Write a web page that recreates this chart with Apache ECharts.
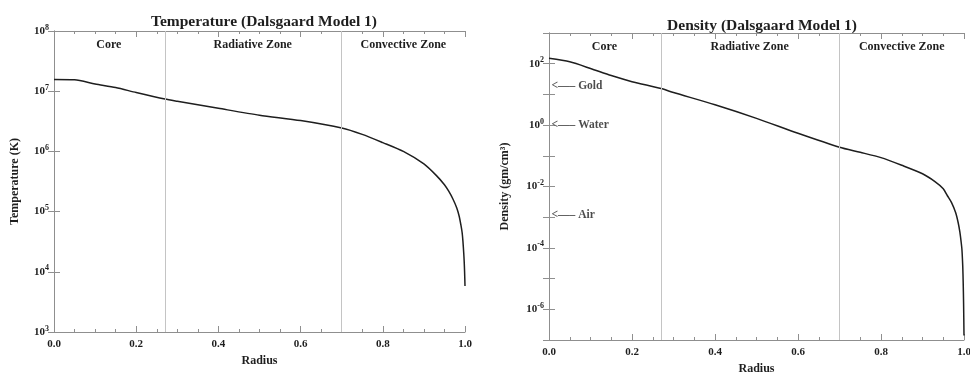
<!DOCTYPE html>
<html>
<head>
<meta charset="utf-8">
<script src="https://cdn.jsdelivr.net/npm/echarts@6/dist/echarts.min.js"></script>
<style>
  html, body { margin: 0; padding: 0; background: #ffffff; }
  #chart { width: 970px; height: 374px; }
</style>
</head>
<body>
<div id="chart"></div>
<script>
// Solar interior profiles (fractional radius)
const radius = [0, 0.05, 0.1, 0.15, 0.2, 0.27, 0.3, 0.4, 0.5, 0.6, 0.7, 0.75, 0.8, 0.85, 0.9,
                0.93, 0.95, 0.96, 0.97, 0.98, 0.986, 0.99, 0.993, 0.995, 0.997, 0.998, 0.999, 1.0];
// Temperature in K
const temperatureK = [1.57e7, 1.55e7, 1.32e7, 1.15e7, 9.5e6, 7.4e6, 6.8e6, 5.2e6, 4.0e6, 3.25e6, 2.45e6,
                      1.92e6, 1.4e6, 1.0e6, 6.2e5, 4.0e5, 2.8e5, 2.2e5, 1.65e5, 1.15e5, 8.3e4, 6.0e4,
                      4.5e4, 3.2e4, 2.0e4, 1.5e4, 1.0e4, 5.8e3];
// Density in g/cm^3
const densityGcm3 = [150, 115, 70, 41, 26, 15.5, 11.5, 4.6, 1.66, 0.54, 0.19, 0.13, 0.087, 0.049, 0.026,
                     0.0145, 8.5e-3, 5.0e-3, 3.0e-3, 1.4e-3, 6.6e-4, 3.3e-4, 1.6e-4, 8.9e-5, 2.5e-5,
                     8e-6, 1.6e-6, 1.4e-7];

// Zone boundaries and names
const zoneEdges = [0, 0.267, 0.70, 1.0];
const zoneNames = ['Core', 'Radiative Zone', 'Convective Zone'];

// Familiar materials for comparison with the density curve
const materialNames = ['Gold', 'Water', 'Air'];
const materialDensities = [19.3, 1.0, 1.2e-3];

const FONT = '"Liberation Serif", "Times New Roman", serif';
const INK = '#1e1e1e';
const FRAME = '#8f8f8f';

function pairs(xs, ys) { return xs.map((x, i) => [x, ys[i]]); }

function powerLabel(hideOdd) {
  return function (v) {
    const e = Math.round(Math.log10(v));
    if (hideOdd && Math.abs(e) % 2 === 1) return '';
    return '{b|10}{s|' + e + '}';
  };
}

const labelRich = {
  b: { fontFamily: FONT, fontWeight: 'bold', fontSize: 11, color: INK },
  s: { fontFamily: FONT, fontWeight: 'bold', fontSize: 8, color: INK, verticalAlign: 'bottom', padding: [0, 0, 7, 0] }
};

function xAxesFor(grid) {
  const common = {
    type: 'value', gridIndex: grid, min: 0, max: 1, interval: 0.2,
    axisLine: { lineStyle: { color: FRAME, width: 1 } },
    axisTick: { inside: true, length: 6, lineStyle: { color: FRAME } },
    minorTick: { show: true, splitNumber: 4, length: 3, lineStyle: { color: FRAME } },
    splitLine: { show: false }
  };
  return [
    Object.assign({}, common, {
      position: 'bottom',
      name: 'Radius', nameLocation: 'middle', nameGap: 23,
      nameTextStyle: { fontFamily: FONT, fontWeight: 'bold', fontSize: 12, color: INK },
      axisLabel: { formatter: v => v.toFixed(1), fontFamily: FONT, fontWeight: 'bold', fontSize: 11, color: INK, margin: 7 }
    }),
    Object.assign({}, common, { position: 'top', axisLabel: { show: false } })
  ];
}

function yAxesFor(grid, lo, hi, hideOdd, title, gap) {
  const common = {
    type: 'log', logBase: 10, gridIndex: grid, min: lo, max: hi, interval: 1,
    axisLine: { lineStyle: { color: FRAME, width: 1 } },
    axisTick: { inside: true, length: 6, lineStyle: { color: FRAME } },
    splitLine: { show: false }
  };
  return [
    Object.assign({}, common, {
      position: 'left',
      name: title, nameLocation: 'middle', nameGap: gap,
      nameTextStyle: { fontFamily: FONT, fontWeight: 'bold', fontSize: 12, color: INK },
      axisLabel: { formatter: powerLabel(hideOdd), rich: labelRich, margin: 5, hideOverlap: false }
    }),
    Object.assign({}, common, { position: 'right', axisLabel: { show: false } })
  ];
}

function zoneMarks() {
  return {
    markArea: {
      silent: true,
      itemStyle: { color: 'rgba(0,0,0,0)' },
      label: { show: true, position: 'insideTop', distance: 8, fontFamily: FONT, fontWeight: 'bold', fontSize: 12, color: INK },
      data: zoneNames.map((n, i) => [{ name: n, xAxis: zoneEdges[i] }, { xAxis: zoneEdges[i + 1] }])
    },
    markLine: {
      silent: true,
      symbol: ['none', 'none'],
      label: { show: false },
      lineStyle: { color: '#c4c4c4', type: 'solid', width: 1 },
      data: zoneEdges.slice(1, -1).map(x => ({ xAxis: x }))
    }
  };
}

const chart = echarts.init(document.getElementById('chart'), null, { renderer: 'canvas' });

chart.setOption({
  animation: false,
  backgroundColor: '#ffffff',
  title: [
    { text: 'Temperature (Dalsgaard Model 1)', left: 259, top: 9, textAlign: 'center',
      textStyle: { fontFamily: FONT, fontWeight: 'bold', fontSize: 15.5, color: INK } },
    { text: 'Density (Dalsgaard Model 1)', left: 757, top: 13, textAlign: 'center',
      textStyle: { fontFamily: FONT, fontWeight: 'bold', fontSize: 15.5, color: INK } }
  ],
  grid: [
    { left: 54, top: 31, width: 411, height: 301, outerBoundsMode: 'none' },
    { left: 549, top: 33, width: 415, height: 307, outerBoundsMode: 'none' }
  ],
  xAxis: xAxesFor(0).concat(xAxesFor(1)),
  yAxis: yAxesFor(0, 1e3, 1e8, false, 'Temperature (K)', 33)
    .concat(yAxesFor(1, 1e-7, 1e3, true, 'Density (gm/cm³)', 38)),
  series: [
    Object.assign({
      type: 'line', xAxisIndex: 0, yAxisIndex: 0,
      data: pairs(radius, temperatureK),
      showSymbol: false, smooth: 0.25,
      lineStyle: { color: INK, width: 1.5 }
    }, zoneMarks()),
    Object.assign({
      type: 'line', xAxisIndex: 2, yAxisIndex: 2,
      data: pairs(radius, densityGcm3),
      showSymbol: false, smooth: 0.25,
      lineStyle: { color: INK, width: 1.5 }
    }, zoneMarks()),
    {
      type: 'scatter', xAxisIndex: 2, yAxisIndex: 2,
      symbolSize: 1, itemStyle: { color: 'rgba(0,0,0,0)' },
      data: materialNames.map((n, i) => ({ name: n, value: [0, materialDensities[i]] })),
      label: {
        show: true, position: 'right', distance: 2,
        formatter: p => '<\u2014\u2013 ' + p.name,
        fontFamily: FONT, fontWeight: 'bold', fontSize: 11.5, color: INK
      }
    }
  ]
});
</script>
</body>
</html>
